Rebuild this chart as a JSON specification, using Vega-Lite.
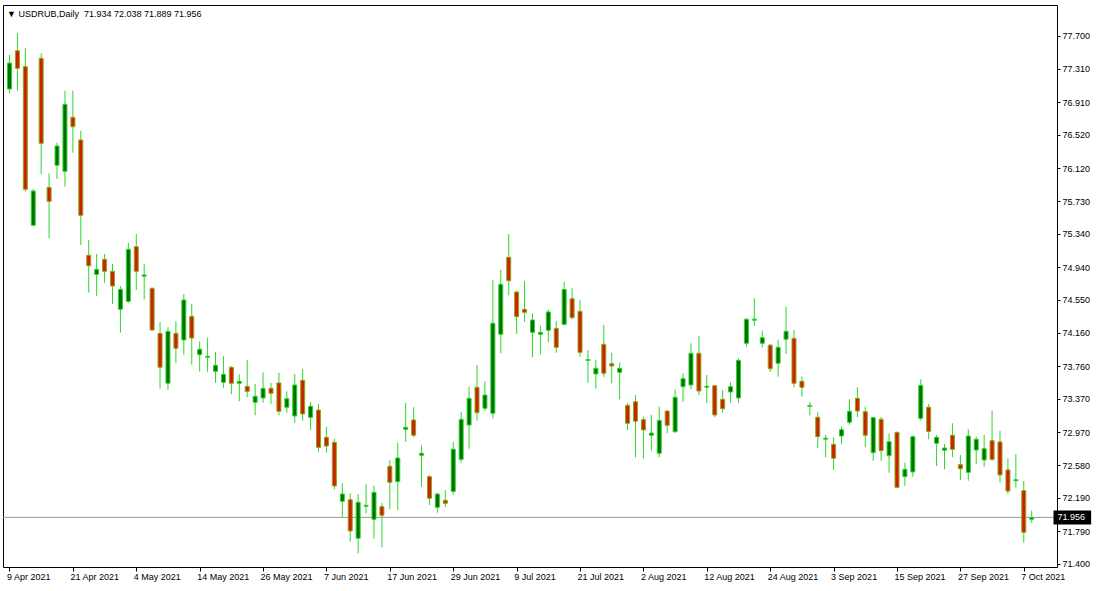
{
  "$schema": "https://vega.github.io/schema/vega-lite/v6.json",
  "width": 1054,
  "height": 562,
  "autosize": {"type": "none"},
  "padding": {"left": 3, "top": 5, "right": 42, "bottom": 24},
  "background": "white",
  "title": {
    "text": "▼ USDRUB,Daily\u00a0\u00a071.934 72.038 71.889 71.956",
    "anchor": "start",
    "frame": "group",
    "offset": -14,
    "dx": 4,
    "font": "Liberation Sans",
    "fontSize": 9,
    "fontWeight": "normal",
    "color": "#000000"
  },
  "datasets": {
    "bars": [
    {"i":0,"o":77.067,"h":77.473,"l":77.020,"c":77.377},
    {"i":1,"o":77.524,"h":77.732,"l":77.047,"c":77.314},
    {"i":2,"o":77.333,"h":77.553,"l":75.842,"c":75.871},
    {"i":3,"o":75.441,"h":75.874,"l":75.433,"c":75.850},
    {"i":4,"o":77.433,"h":77.493,"l":76.053,"c":76.419},
    {"i":5,"o":75.894,"h":76.061,"l":75.286,"c":75.727},
    {"i":6,"o":76.157,"h":76.427,"l":75.993,"c":76.387},
    {"i":7,"o":76.085,"h":77.047,"l":75.902,"c":76.885},
    {"i":8,"o":76.730,"h":77.047,"l":76.307,"c":76.617},
    {"i":9,"o":76.459,"h":76.570,"l":75.206,"c":75.560},
    {"i":10,"o":75.083,"h":75.266,"l":74.637,"c":74.959},
    {"i":11,"o":74.854,"h":75.099,"l":74.598,"c":74.916},
    {"i":12,"o":75.035,"h":75.099,"l":74.756,"c":74.892},
    {"i":13,"o":74.892,"h":74.979,"l":74.502,"c":74.717},
    {"i":14,"o":74.439,"h":74.717,"l":74.160,"c":74.677},
    {"i":15,"o":74.534,"h":75.233,"l":74.518,"c":75.155},
    {"i":16,"o":75.186,"h":75.337,"l":74.669,"c":74.892},
    {"i":17,"o":74.833,"h":74.979,"l":74.558,"c":74.848},
    {"i":18,"o":74.689,"h":74.700,"l":74.184,"c":74.192},
    {"i":19,"o":74.152,"h":74.287,"l":73.492,"c":73.747},
    {"i":20,"o":73.556,"h":74.224,"l":73.476,"c":74.176},
    {"i":21,"o":74.152,"h":74.296,"l":73.795,"c":73.974},
    {"i":22,"o":74.073,"h":74.621,"l":73.897,"c":74.550},
    {"i":23,"o":74.355,"h":74.502,"l":73.778,"c":74.096},
    {"i":24,"o":73.897,"h":74.057,"l":73.697,"c":73.962},
    {"i":25,"o":73.866,"h":74.100,"l":73.694,"c":73.878},
    {"i":26,"o":73.699,"h":73.929,"l":73.563,"c":73.771},
    {"i":27,"o":73.568,"h":73.882,"l":73.503,"c":73.663},
    {"i":28,"o":73.747,"h":73.762,"l":73.425,"c":73.556},
    {"i":29,"o":73.556,"h":73.663,"l":73.341,"c":73.580},
    {"i":30,"o":73.520,"h":73.834,"l":73.389,"c":73.460},
    {"i":31,"o":73.329,"h":73.548,"l":73.174,"c":73.401},
    {"i":32,"o":73.381,"h":73.687,"l":73.324,"c":73.496},
    {"i":33,"o":73.496,"h":73.563,"l":73.309,"c":73.437},
    {"i":34,"o":73.560,"h":73.682,"l":73.174,"c":73.222},
    {"i":35,"o":73.270,"h":73.460,"l":73.205,"c":73.372},
    {"i":36,"o":73.166,"h":73.667,"l":73.086,"c":73.536},
    {"i":37,"o":73.592,"h":73.727,"l":73.110,"c":73.190},
    {"i":38,"o":73.150,"h":73.333,"l":72.999,"c":73.282},
    {"i":39,"o":73.237,"h":73.309,"l":72.740,"c":72.792},
    {"i":40,"o":72.912,"h":73.038,"l":72.728,"c":72.808},
    {"i":41,"o":72.852,"h":72.895,"l":72.291,"c":72.331},
    {"i":42,"o":72.148,"h":72.363,"l":71.957,"c":72.235},
    {"i":43,"o":72.167,"h":72.244,"l":71.666,"c":71.794},
    {"i":44,"o":71.707,"h":72.235,"l":71.528,"c":72.136},
    {"i":45,"o":72.088,"h":72.354,"l":72.005,"c":72.100},
    {"i":46,"o":71.933,"h":72.334,"l":71.702,"c":72.255},
    {"i":47,"o":72.084,"h":72.128,"l":71.599,"c":71.981},
    {"i":48,"o":72.566,"h":72.641,"l":72.056,"c":72.375},
    {"i":49,"o":72.382,"h":72.847,"l":72.044,"c":72.665},
    {"i":50,"o":73.007,"h":73.324,"l":72.859,"c":73.031},
    {"i":51,"o":73.118,"h":73.270,"l":72.912,"c":72.936},
    {"i":52,"o":72.697,"h":72.816,"l":72.322,"c":72.721},
    {"i":53,"o":72.442,"h":72.458,"l":72.104,"c":72.184},
    {"i":54,"o":72.076,"h":72.251,"l":72.012,"c":72.235},
    {"i":55,"o":72.160,"h":72.283,"l":72.076,"c":72.124},
    {"i":56,"o":72.265,"h":72.857,"l":72.227,"c":72.770},
    {"i":57,"o":72.649,"h":73.214,"l":72.609,"c":73.126},
    {"i":58,"o":73.058,"h":73.515,"l":72.776,"c":73.377},
    {"i":59,"o":73.508,"h":73.774,"l":73.110,"c":73.205},
    {"i":60,"o":73.258,"h":73.580,"l":73.222,"c":73.416},
    {"i":61,"o":73.198,"h":74.788,"l":73.134,"c":74.272},
    {"i":62,"o":74.141,"h":74.908,"l":73.914,"c":74.737},
    {"i":63,"o":75.059,"h":75.337,"l":74.606,"c":74.780},
    {"i":64,"o":74.645,"h":74.661,"l":74.144,"c":74.351},
    {"i":65,"o":74.439,"h":74.776,"l":74.291,"c":74.403},
    {"i":66,"o":74.164,"h":74.391,"l":73.866,"c":74.311},
    {"i":67,"o":74.141,"h":74.243,"l":73.902,"c":74.164},
    {"i":68,"o":74.188,"h":74.439,"l":74.045,"c":74.407},
    {"i":69,"o":74.212,"h":74.299,"l":73.921,"c":73.985},
    {"i":70,"o":74.260,"h":74.765,"l":74.248,"c":74.677},
    {"i":71,"o":74.565,"h":74.689,"l":74.320,"c":74.339},
    {"i":72,"o":74.415,"h":74.550,"l":73.873,"c":73.926},
    {"i":73,"o":73.828,"h":73.953,"l":73.563,"c":73.840},
    {"i":74,"o":73.667,"h":73.834,"l":73.492,"c":73.735},
    {"i":75,"o":74.021,"h":74.252,"l":73.631,"c":73.675},
    {"i":76,"o":73.790,"h":73.921,"l":73.556,"c":73.762},
    {"i":77,"o":73.687,"h":73.802,"l":73.365,"c":73.735},
    {"i":78,"o":73.293,"h":73.317,"l":72.999,"c":73.079},
    {"i":79,"o":73.336,"h":73.416,"l":72.673,"c":73.103},
    {"i":80,"o":73.122,"h":73.157,"l":72.661,"c":72.999},
    {"i":81,"o":72.936,"h":73.178,"l":72.752,"c":72.963},
    {"i":82,"o":72.721,"h":73.277,"l":72.673,"c":73.114},
    {"i":83,"o":73.225,"h":73.237,"l":72.959,"c":73.055},
    {"i":84,"o":72.978,"h":73.484,"l":72.967,"c":73.389},
    {"i":85,"o":73.515,"h":73.675,"l":73.336,"c":73.611},
    {"i":86,"o":73.536,"h":74.033,"l":73.484,"c":73.914},
    {"i":87,"o":73.914,"h":74.120,"l":73.413,"c":73.464},
    {"i":88,"o":73.509,"h":73.655,"l":73.317,"c":73.521},
    {"i":89,"o":73.527,"h":73.536,"l":73.150,"c":73.178},
    {"i":90,"o":73.365,"h":73.476,"l":73.205,"c":73.253},
    {"i":91,"o":73.452,"h":73.571,"l":73.324,"c":73.515},
    {"i":92,"o":73.381,"h":73.854,"l":73.324,"c":73.830},
    {"i":93,"o":74.033,"h":74.330,"l":73.993,"c":74.320},
    {"i":94,"o":74.309,"h":74.570,"l":74.240,"c":74.321},
    {"i":95,"o":74.033,"h":74.184,"l":73.985,"c":74.100},
    {"i":96,"o":74.011,"h":74.025,"l":73.691,"c":73.730},
    {"i":97,"o":73.795,"h":74.073,"l":73.635,"c":73.985},
    {"i":98,"o":74.081,"h":74.470,"l":73.906,"c":74.176},
    {"i":99,"o":74.093,"h":74.192,"l":73.508,"c":73.556},
    {"i":100,"o":73.580,"h":73.635,"l":73.396,"c":73.508},
    {"i":101,"o":73.279,"h":73.329,"l":73.174,"c":73.291},
    {"i":102,"o":73.150,"h":73.210,"l":72.780,"c":72.919},
    {"i":103,"o":72.889,"h":72.939,"l":72.673,"c":72.901},
    {"i":104,"o":72.828,"h":72.912,"l":72.522,"c":72.661},
    {"i":105,"o":72.927,"h":73.038,"l":72.828,"c":73.002},
    {"i":106,"o":73.091,"h":73.365,"l":73.062,"c":73.222},
    {"i":107,"o":73.377,"h":73.508,"l":73.150,"c":73.225},
    {"i":108,"o":73.217,"h":73.277,"l":72.792,"c":72.936},
    {"i":109,"o":72.728,"h":73.157,"l":72.632,"c":73.146},
    {"i":110,"o":73.126,"h":73.154,"l":72.632,"c":72.752},
    {"i":111,"o":72.692,"h":72.959,"l":72.489,"c":72.859},
    {"i":112,"o":72.971,"h":72.979,"l":72.303,"c":72.315},
    {"i":113,"o":72.442,"h":72.609,"l":72.331,"c":72.530},
    {"i":114,"o":72.498,"h":72.936,"l":72.442,"c":72.919},
    {"i":115,"o":73.138,"h":73.604,"l":73.110,"c":73.532},
    {"i":116,"o":73.271,"h":73.309,"l":72.888,"c":72.981},
    {"i":117,"o":72.840,"h":72.939,"l":72.569,"c":72.912},
    {"i":118,"o":72.757,"h":72.832,"l":72.530,"c":72.784},
    {"i":119,"o":72.936,"h":73.079,"l":72.673,"c":72.768},
    {"i":120,"o":72.585,"h":72.700,"l":72.402,"c":72.537},
    {"i":121,"o":72.494,"h":73.007,"l":72.394,"c":72.927},
    {"i":122,"o":72.760,"h":72.919,"l":72.593,"c":72.888},
    {"i":123,"o":72.641,"h":72.939,"l":72.561,"c":72.776},
    {"i":124,"o":72.871,"h":73.229,"l":72.632,"c":72.649},
    {"i":125,"o":72.856,"h":72.990,"l":72.370,"c":72.462},
    {"i":126,"o":72.522,"h":72.661,"l":72.235,"c":72.271},
    {"i":127,"o":72.393,"h":72.712,"l":72.310,"c":72.405},
    {"i":128,"o":72.275,"h":72.390,"l":71.654,"c":71.778},
    {"i":129,"o":71.934,"h":72.038,"l":71.889,"c":71.956}
    ],
    "last": [{"i0": 131.75, "i1": 136.5, "price": 71.956, "label": "71.956"}]
  },
  "layer": [
    {
      "data": {"name": "last"},
      "mark": {"type": "rule", "color": "#9a9a9a", "strokeWidth": 1},
      "encoding": {
        "y": {
          "field": "price",
          "type": "quantitative",
          "scale": {"domain": [71.3642, 78.0695], "nice": false, "zero": false},
          "axis": {"title": null, "orient": "right", "values": [71.4, 71.79, 72.19, 72.58, 72.97, 73.37, 73.76, 74.16, 74.55, 74.94, 75.34, 75.73, 76.12, 76.52, 76.91, 77.31, 77.7], "format": ".3f", "tickSize": 3, "tickColor": "#000000", "labelPadding": 2, "labelBaseline": "middle", "labelOverlap": false, "labelBound": false, "labelFlush": false, "domain": false, "grid": false}
        }
      }
    },
    {
      "data": {"name": "bars"},
      "mark": {"type": "rule", "color": "#2ed62e", "strokeWidth": 1, "clip": true},
      "encoding": {
        "x": {
          "field": "i",
          "type": "quantitative",
          "scale": {"domain": [-0.1875, 131.5625], "nice": false, "zero": false},
          "axis": {"title": null, "orient": "bottom", "values": [0, 8, 16, 24, 32, 40, 48, 56, 64, 72, 80, 88, 96, 104, 112, 120, 128], "labelExpr": "['9 Apr 2021','21 Apr 2021','4 May 2021','14 May 2021','26 May 2021','7 Jun 2021','17 Jun 2021','29 Jun 2021','9 Jul 2021','21 Jul 2021','2 Aug 2021','12 Aug 2021','24 Aug 2021','3 Sep 2021','15 Sep 2021','27 Sep 2021','7 Oct 2021'][round(datum.value / 8)]", "labelAlign": "left", "labelBaseline": "top", "labelOffset": -3, "labelPadding": 1, "labelFlush": false, "labelOverlap": false, "labelBound": false, "tickSize": 4, "tickColor": "#000000", "domain": false, "grid": false}
        },
        "y": {
          "field": "l",
          "type": "quantitative",
          "scale": {"domain": [71.3642, 78.0695], "nice": false, "zero": false},
          "axis": {"title": null, "orient": "right", "values": [71.4, 71.79, 72.19, 72.58, 72.97, 73.37, 73.76, 74.16, 74.55, 74.94, 75.34, 75.73, 76.12, 76.52, 76.91, 77.31, 77.7], "format": ".3f", "tickSize": 3, "tickColor": "#000000", "labelPadding": 2, "labelBaseline": "middle", "labelOverlap": false, "labelBound": false, "labelFlush": false, "domain": false, "grid": false}
        },
        "y2": {"field": "h"}
      }
    },
    {
      "data": {"name": "bars"},
      "mark": {"type": "bar", "size": 4, "strokeWidth": 1, "clip": true, "orient": "vertical"},
      "encoding": {
        "x": {
          "field": "i",
          "type": "quantitative",
          "scale": {"domain": [-0.1875, 131.5625], "nice": false, "zero": false},
          "axis": {"title": null, "orient": "bottom", "values": [0, 8, 16, 24, 32, 40, 48, 56, 64, 72, 80, 88, 96, 104, 112, 120, 128], "labelExpr": "['9 Apr 2021','21 Apr 2021','4 May 2021','14 May 2021','26 May 2021','7 Jun 2021','17 Jun 2021','29 Jun 2021','9 Jul 2021','21 Jul 2021','2 Aug 2021','12 Aug 2021','24 Aug 2021','3 Sep 2021','15 Sep 2021','27 Sep 2021','7 Oct 2021'][round(datum.value / 8)]", "labelAlign": "left", "labelBaseline": "top", "labelOffset": -3, "labelPadding": 1, "labelFlush": false, "labelOverlap": false, "labelBound": false, "tickSize": 4, "tickColor": "#000000", "domain": false, "grid": false}
        },
        "y": {
          "field": "o",
          "type": "quantitative",
          "scale": {"domain": [71.3642, 78.0695], "nice": false, "zero": false},
          "axis": {"title": null, "orient": "right", "values": [71.4, 71.79, 72.19, 72.58, 72.97, 73.37, 73.76, 74.16, 74.55, 74.94, 75.34, 75.73, 76.12, 76.52, 76.91, 77.31, 77.7], "format": ".3f", "tickSize": 3, "tickColor": "#000000", "labelPadding": 2, "labelBaseline": "middle", "labelOverlap": false, "labelBound": false, "labelFlush": false, "domain": false, "grid": false}
        },
        "y2": {"field": "c"},
        "fill": {"condition": {"test": "datum.c < datum.o", "value": "#cc2200"}, "value": "#007000"},
        "stroke": {"condition": {"test": "datum.c < datum.o", "value": "#8fa61a"}, "value": "#2ed62e"}
      }
    },
    {
      "data": {"name": "last"},
      "mark": {"type": "rule", "color": "#000000", "strokeWidth": 14, "strokeCap": "butt", "clip": false},
      "encoding": {
        "x": {
          "field": "i0",
          "type": "quantitative",
          "scale": {"domain": [-0.1875, 131.5625], "nice": false, "zero": false},
          "axis": {"title": null, "orient": "bottom", "values": [0, 8, 16, 24, 32, 40, 48, 56, 64, 72, 80, 88, 96, 104, 112, 120, 128], "labelExpr": "['9 Apr 2021','21 Apr 2021','4 May 2021','14 May 2021','26 May 2021','7 Jun 2021','17 Jun 2021','29 Jun 2021','9 Jul 2021','21 Jul 2021','2 Aug 2021','12 Aug 2021','24 Aug 2021','3 Sep 2021','15 Sep 2021','27 Sep 2021','7 Oct 2021'][round(datum.value / 8)]", "labelAlign": "left", "labelBaseline": "top", "labelOffset": -3, "labelPadding": 1, "labelFlush": false, "labelOverlap": false, "labelBound": false, "tickSize": 4, "tickColor": "#000000", "domain": false, "grid": false}
        },
        "x2": {"field": "i1"},
        "y": {
          "field": "price",
          "type": "quantitative",
          "scale": {"domain": [71.3642, 78.0695], "nice": false, "zero": false},
          "axis": {"title": null, "orient": "right", "values": [71.4, 71.79, 72.19, 72.58, 72.97, 73.37, 73.76, 74.16, 74.55, 74.94, 75.34, 75.73, 76.12, 76.52, 76.91, 77.31, 77.7], "format": ".3f", "tickSize": 3, "tickColor": "#000000", "labelPadding": 2, "labelBaseline": "middle", "labelOverlap": false, "labelBound": false, "labelFlush": false, "domain": false, "grid": false}
        }
      }
    },
    {
      "data": {"name": "last"},
      "mark": {"type": "text", "align": "left", "baseline": "middle", "dx": 4, "color": "#ffffff", "font": "Liberation Sans", "fontSize": 9, "clip": false},
      "encoding": {
        "x": {
          "field": "i0",
          "type": "quantitative",
          "scale": {"domain": [-0.1875, 131.5625], "nice": false, "zero": false},
          "axis": {"title": null, "orient": "bottom", "values": [0, 8, 16, 24, 32, 40, 48, 56, 64, 72, 80, 88, 96, 104, 112, 120, 128], "labelExpr": "['9 Apr 2021','21 Apr 2021','4 May 2021','14 May 2021','26 May 2021','7 Jun 2021','17 Jun 2021','29 Jun 2021','9 Jul 2021','21 Jul 2021','2 Aug 2021','12 Aug 2021','24 Aug 2021','3 Sep 2021','15 Sep 2021','27 Sep 2021','7 Oct 2021'][round(datum.value / 8)]", "labelAlign": "left", "labelBaseline": "top", "labelOffset": -3, "labelPadding": 1, "labelFlush": false, "labelOverlap": false, "labelBound": false, "tickSize": 4, "tickColor": "#000000", "domain": false, "grid": false}
        },
        "y": {
          "field": "price",
          "type": "quantitative",
          "scale": {"domain": [71.3642, 78.0695], "nice": false, "zero": false},
          "axis": {"title": null, "orient": "right", "values": [71.4, 71.79, 72.19, 72.58, 72.97, 73.37, 73.76, 74.16, 74.55, 74.94, 75.34, 75.73, 76.12, 76.52, 76.91, 77.31, 77.7], "format": ".3f", "tickSize": 3, "tickColor": "#000000", "labelPadding": 2, "labelBaseline": "middle", "labelOverlap": false, "labelBound": false, "labelFlush": false, "domain": false, "grid": false}
        },
        "text": {"field": "label"}
      }
    }
  ],
  "config": {
    "view": {"stroke": "#000000", "strokeWidth": 1},
    "axis": {"labelFont": "Liberation Sans", "labelFontSize": 9, "labelColor": "#000000", "labelOverlap": false}
  }
}
